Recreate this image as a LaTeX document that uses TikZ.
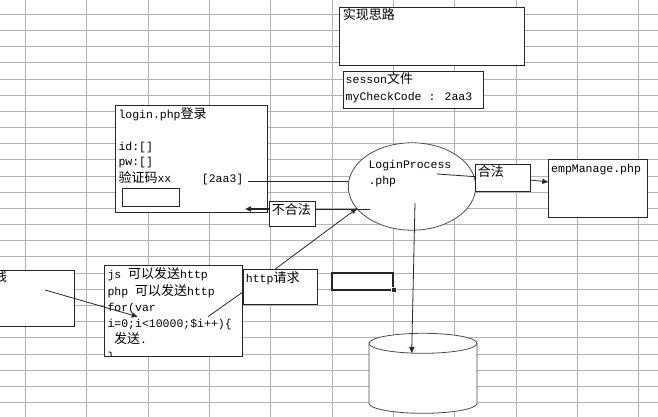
\documentclass[tikz,border=0pt]{standalone}
\usepackage{fontspec}
\setmainfont{Liberation Mono}
\newfontfamily\cjk{Noto Sans CJK SC}
\usetikzlibrary{arrows.meta,shapes.geometric,calc}
\newcommand\zh[1]{{\cjk\fontsize{13}{14}\selectfont #1}}
\begin{document}
\begin{tikzpicture}[x=1pt,y=-1pt,
  gridline/.style={draw=gray!60, line width=1pt},
  box/.style={draw=black!85, fill=white, line width=0.9pt, inner sep=0pt, outer sep=0pt, anchor=north west},
  txt/.style={inner sep=0pt, anchor=west, text height=9pt, text depth=3pt, font=\fontsize{11.5}{14}\selectfont},
  conn/.style={draw=black!85, line width=0.8pt},
  arr/.style={conn, -{Triangle[length=6pt,width=5pt]}}]
\useasboundingbox (0,0) rectangle (658,417);
\clip (0,0) rectangle (658,417);
\fill[white] (0,0) rectangle (658,417);
% spreadsheet grid
\foreach \k in {0,...,10} {
  \pgfmathsetmacro\gx{floor(25.3+61.35*\k)+0.5}
  \draw[gridline] (\gx,0) -- (\gx,417);
}
\foreach \k in {0,...,24} {
  \pgfmathsetmacro\gy{floor(14.3+16.18*\k)+0.5}
  \draw[gridline] (0,\gy) -- (658,\gy);
}

% boxes
\node[box, minimum width=185, minimum height=57.7] (idea) at (339.3,7.3) {};
\node[box, minimum width=140, minimum height=37.7] (sess) at (343.3,71) {};
\node[box, minimum width=151.6, minimum height=106.7] (login) at (115.7,105.3) {};
\node[box, minimum width=57.4, minimum height=18] (inp) at (122.3,188.3) {};
\node[box, minimum width=46, minimum height=24.6] (nh) at (269,201.7) {};
\node[draw=black!70, fill=white, line width=0.8pt, ellipse, inner sep=0pt, outer sep=0pt,
      minimum width=127.4, minimum height=87.4] (lp) at (412,186.5) {};
\node[box, minimum width=54.6, minimum height=27.4] (hf) at (475.7,164.3) {};
\node[box, minimum width=98.7, minimum height=58.4] (emp) at (548.3,159.3) {};
\node[box, minimum width=74, minimum height=35] (http) at (243.3,269) {};
\node[box, minimum width=138, minimum height=91] (js) at (104.3,265) {};
\node[box, minimum width=94, minimum height=55.3] (lft) at (-20,270.7) {};
% selected cell
\node[draw=black!85, line width=2.2pt, inner sep=0pt, outer sep=0pt, anchor=north west,
      minimum width=61.6, minimum height=17] (cell) at (331.7,272.7) {};
\fill[black!85, draw=white, line width=0.6pt] ($(cell.south east)+(-2.5,-2.5)$) rectangle ($(cell.south east)+(2.5,2.5)$);
% database cylinder
\filldraw[fill=white, draw=black!70, line width=0.8pt]
  (369,343.3) -- (369,403.3) arc[start angle=180, end angle=360, x radius=54pt, y radius=10pt]
  -- (477,343.3) arc[start angle=0, end angle=180, x radius=54pt, y radius=10pt] -- cycle;
\draw[black!70, line width=0.8pt] (369,343.3) arc[start angle=180, end angle=360, x radius=54pt, y radius=10pt];
\coordinate (dbtop) at (411.7,353);

% texts
\node[txt] at (342.7,16.7) {\zh{实现思路}};
\node[txt] at (345.5,81) {sesson\zh{文件}};
\node[txt] at (345.5,97.7) {myCheckCode : 2aa3};
\node[txt] at (368.3,165) {LoginProcess};
\node[txt] at (368.3,181.7) {.php};
\node[txt] at (477.7,173.3) {\zh{合法}};
\node[txt] at (551,169.3) {empManage.php};
\node[txt] at (118.3,115) {login.php\zh{登录}};
\node[txt] at (118.3,147.3) {id:[]};
\node[txt] at (118.3,162.5) {pw:[]};
\node[txt] at (118.3,179.3) {\zh{验证码}xx};
\node[txt] at (201.7,179.3) {[2aa3]};
\node[txt] at (271.7,211.7) {\zh{不合法}};
\node[txt] at (245.7,279) {http\zh{请求}};
\node[txt] at (-6,278) {\zh{钱}};
\begin{scope}
  \clip (104.3,265) rectangle (242.3,356);
  \node[txt] at (107.3,275.7) {js \zh{可以发送}http};
  \node[txt] at (107.3,292.3) {php \zh{可以发送}http};
  \node[txt] at (107.3,308.7) {for(var};
  \node[txt] at (107.3,324.5) {i=0;i<10000;\$i++)\{};
  \node[txt] at (113.8,340.5) {\zh{发送}.};
  \node[txt] at (107.3,357.5) {\}};
\end{scope}

% connectors
\coordinate (a1) at (248.3,181.7);
\draw[conn] (a1) -- (a1 -| lp.west);
\coordinate (a2) at (437,174);
\draw[conn] (a2) -- ([yshift=1.3pt]hf.west);
\draw[arr] ([yshift=-2pt]hf.east) -- ([yshift=6.5pt]emp.west);
\coordinate (a4) at (370,209);
\coordinate (a5) at (245,209);
\draw[conn] (a4) -- (a4 -| nh.east);
\draw[arr, line width=1.6pt] (a4 -| nh.west) -- (a5);
\coordinate (a6) at (357,208.3);
\draw[arr] ([xshift=-5pt]http.north) -- (a6);
\coordinate (a7) at (208,316.7);
\draw[conn] (a7) -- ([yshift=-5.2pt]http.west);
\coordinate (a8) at (45,290);
\coordinate (a9) at (137.7,316.7);
\draw[arr] (a8) -- (a9);
\coordinate (a10) at (415,203);
\draw[arr] (a10) -- (dbtop);
\end{tikzpicture}
\end{document}
